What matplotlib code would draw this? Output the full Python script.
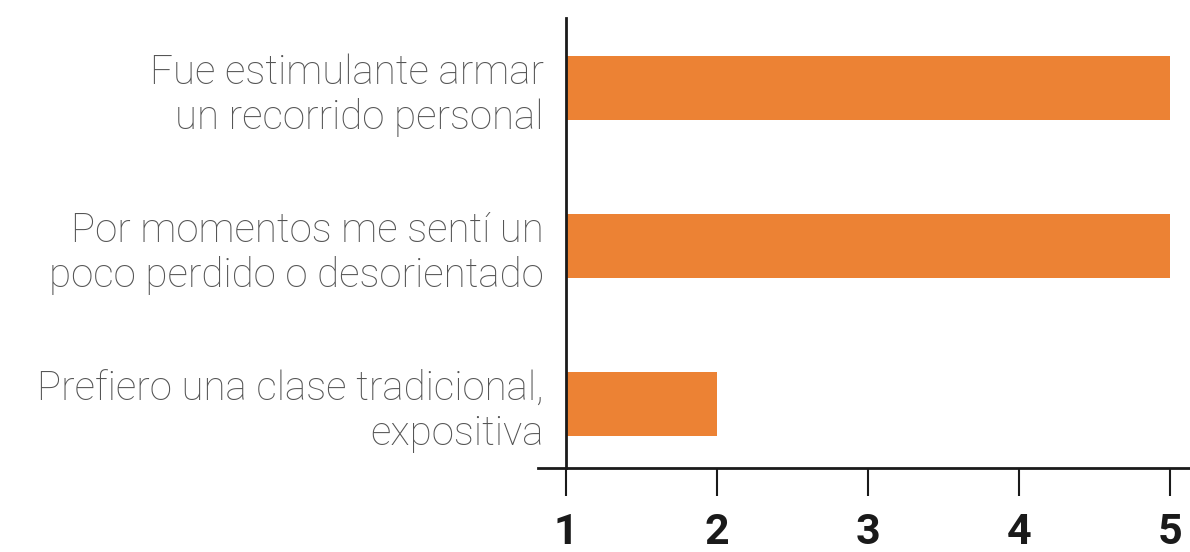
import matplotlib
matplotlib.use('Agg')
import matplotlib.pyplot as plt

categories = ['Fue estimulante armar\nun recorrido personal',
              'Por momentos me sentí un\npoco perdido o desorientado',
              'Prefiero una clase tradicional,\nexpositiva']
values = [5, 5, 2]
ticks = [1, 2, 3, 4, 5]

BAR = '#EC8234'
INK = '#1a1a1a'

fig = plt.figure(figsize=(11.9, 5.52), dpi=100)
ax = fig.add_axes([538/1190, 84/552, 652/1190, 450/552])

pos = list(range(len(categories)))[::-1]
ax.barh(pos, [v - 1 for v in values], left=1, height=0.4, color=BAR, zorder=1)

ax.set_xlim(1 - 28/151, 5 + 20/151)
ax.set_ylim(-0.405, 2.443)

for s in ['top', 'right']:
    ax.spines[s].set_visible(False)
ax.spines['left'].set_position(('data', 1))
for s in ['left', 'bottom']:
    ax.spines[s].set_linewidth(2)
    ax.spines[s].set_color(INK)

ax.set_xticks(ticks)
ax.set_xticklabels([str(t) for t in ticks], fontsize=31, fontweight='bold',
                   color=INK, family=['Roboto', 'DejaVu Sans'])
ax.tick_params(axis='x', length=20, width=1.5, color=INK, pad=12)

ax.set_yticks(pos)
ax.set_yticklabels(categories, fontsize=29, color='#555555', fontweight='light',
                   family=['Roboto', 'DejaVu Sans'], linespacing=1.2)
ax.tick_params(axis='y', length=0, pad=16)

fig.savefig('out.png', dpi=100)
